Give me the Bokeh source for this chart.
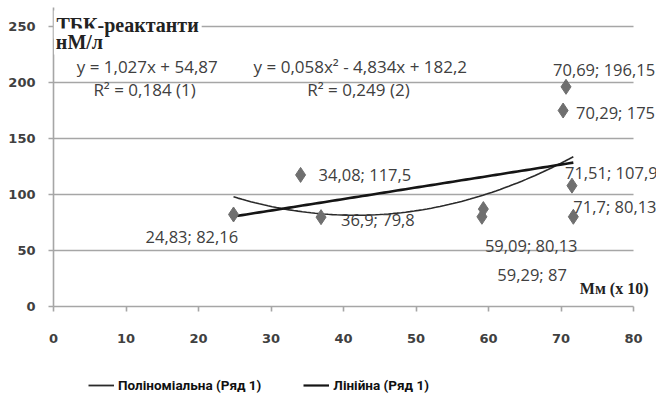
import numpy as np
from bokeh.plotting import figure
from bokeh.layouts import column
from bokeh.models import ColumnDataSource, Label, Legend, LegendItem, FixedTicker, Range1d
from bokeh.core.properties import value
from bokeh.embed import file_html
from bokeh.resources import INLINE

# ---- data ----
mm_x = [24.83, 34.08, 36.9, 59.09, 59.29, 70.69, 70.29, 71.51, 71.7]
tbk_y = [82.16, 117.5, 79.8, 80.13, 87, 196.15, 175, 107.9, 80.13]
point_labels = ["24,83; 82,16", "34,08; 117,5", "36,9; 79,8", "59,09; 80,13", "59,29; 87",
                "70,69; 196,15", "70,29; 175", "71,51; 107,9", "71,7; 80,13"]
lin_coef = [1.027, 54.87]          # y = 1,027x + 54,87
poly_coef = [0.058, -4.834, 182.2]  # y = 0,058x^2 - 4,834x + 182,2
x_ticks = [0, 10, 20, 30, 40, 50, 60, 70, 80]
y_ticks = [0, 50, 100, 150, 200, 250]
legend_labels = ["Поліноміальна (Ряд 1)", "Лінійна (Ряд 1)"]

# ---- styling (label offsets in px) ----
lab_dx = [-88, 18, 20, 3, 14, -13, 13, -7, 0]
lab_dy = [22, 0, 2, 29, 65, -17, 2, -13, -10]

GRID = "#a6a6a6"
TXT = "#404040"
POLY_C, LIN_C = "#2a2a2a", "#151515"

p = figure(frame_width=603, frame_height=299, output_backend="svg", toolbar_location=None,
           x_range=Range1d(0, 83.17), y_range=Range1d(0, 267.0),
           min_border_left=53, min_border_right=0, min_border_top=7, min_border_bottom=0)
p.outline_line_color = None
p.xgrid.visible = False
p.ygrid.visible = False

# horizontal grid lines spanning 0..80
p.segment(x0=[x_ticks[0]] * (len(y_ticks) - 1), x1=[x_ticks[-1]] * (len(y_ticks) - 1),
          y0=y_ticks[1:], y1=y_ticks[1:], line_color=GRID, line_width=1.6)

# trend lines
xs = np.linspace(min(mm_x), max(mm_x), 80)
poly_y = np.polyval(poly_coef, xs)
lin_y = np.polyval(lin_coef, xs)
p.line(xs, poly_y, line_color=POLY_C, line_width=1.6)
p.line(xs, lin_y, line_color=LIN_C, line_width=2.6)

src = ColumnDataSource(dict(x=mm_x, y=tbk_y, t=point_labels, dx=lab_dx, dy=lab_dy))
p.scatter("x", "y", source=src, marker="diamond", size=15, fill_color="#6f6f6f", line_color="#6f6f6f")
p.text("x", "y", text="t", source=src, x_offset="dx", y_offset="dy", text_align="left",
       text_baseline="middle", text_font=value("Open Sans"), text_font_size="16.5px", text_color=TXT)

for ax in (p.xaxis[0], p.yaxis[0]):
    ax.axis_line_color = GRID
    ax.axis_line_width = 1.6
    ax.major_tick_line_color = GRID
    ax.major_tick_line_width = 1.6
    ax.major_tick_in = 0
    ax.major_tick_out = 5
    ax.minor_tick_line_color = None
    ax.major_label_text_font = "DejaVu Sans"
    ax.major_label_text_font_size = "13px"
    ax.major_label_text_font_style = "bold"
    ax.major_label_text_color = TXT
p.xaxis.ticker = FixedTicker(ticks=x_ticks)
p.yaxis.ticker = FixedTicker(ticks=y_ticks)
p.xaxis.bounds = (0, 80)
p.xaxis.major_label_standoff = 22
p.yaxis.major_label_standoff = 13

# title-like labels
p.add_layout(Label(x=0, y=251.8, text="ТБК-реактанти", text_font="Liberation Serif",
                   text_font_size="20px", text_font_style="bold", text_color="#222222",
                   text_baseline="alphabetic", background_fill_color="white", padding=3))
p.add_layout(Label(x=0.05, y=236.6, text="нМ/л", text_font="Liberation Serif",
                   text_font_size="20px", text_font_style="bold", text_color="#222222",
                   text_baseline="alphabetic", background_fill_color="white", padding=2))
p.add_layout(Label(x=72.6, y=16, text="Мм (х 10)", text_font="Liberation Serif",
                   text_font_size="16px", text_font_style="bold", text_color="#222222",
                   text_baseline="middle"))

# equations
eq_style = dict(text_font="Open Sans", text_font_size="17px", text_color=TXT, text_baseline="middle")
p.add_layout(Label(x=3.2, y=214.3, text="y = 1,027x + 54,87", **eq_style))
p.add_layout(Label(x=5.5, y=193.7, text="R² = 0,184 (1)", **eq_style))
p.add_layout(Label(x=27.6, y=214.3, text="y = 0,058x² - 4,834x + 182,2", **eq_style))
p.add_layout(Label(x=35.0, y=193.7, text="R² = 0,249 (2)", **eq_style))

# legend in its own strip below the chart (series lines lie outside its view)
p2 = figure(width=656, height=52, output_backend="svg", toolbar_location=None,
            x_range=Range1d(0, 1), y_range=Range1d(0, 1),
            min_border_left=0, min_border_right=0, min_border_top=0, min_border_bottom=0,
            x_axis_type=None, y_axis_type=None)
p2.outline_line_color = None
p2.xgrid.visible = False
p2.ygrid.visible = False
lp = p2.line(xs, poly_y, line_color=POLY_C, line_width=1.8)
ll = p2.line(xs, lin_y, line_color=LIN_C, line_width=2.2)
legend = Legend(items=[LegendItem(label=legend_labels[0], renderers=[lp]),
                       LegendItem(label=legend_labels[1], renderers=[ll])],
                location=(35, 2), orientation="horizontal")
legend.border_line_color = None
legend.background_fill_alpha = 0
legend.padding = 0
legend.margin = 0
legend.spacing = 42
legend.glyph_width = 26
legend.label_standoff = 4
legend.label_text_font = "Roboto"
legend.label_text_font_style = "bold"
legend.label_text_font_size = "13.5px"
legend.label_text_color = "#111111"
p2.add_layout(legend, "center")

open("out.html", "w").write(file_html(column(p, p2, spacing=0), INLINE))
